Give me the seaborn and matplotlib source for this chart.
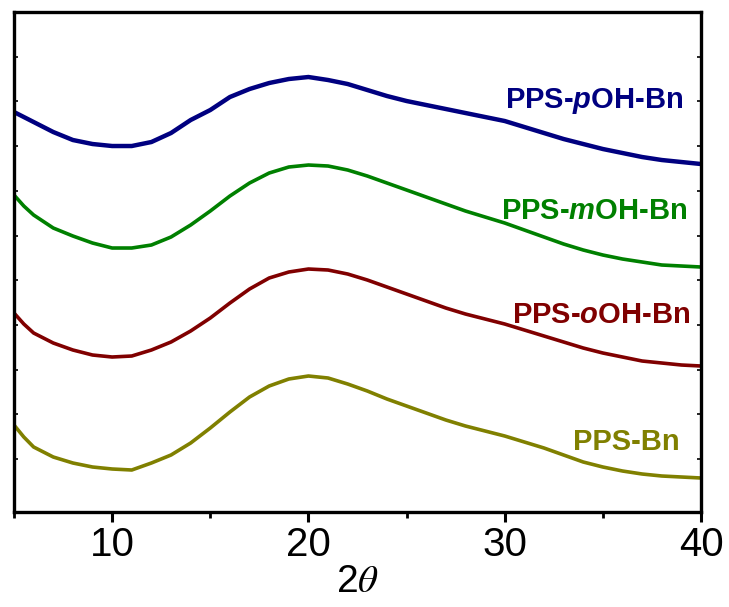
import numpy as np
import pandas as pd
import matplotlib
matplotlib.use("Agg")
import matplotlib.pyplot as plt
import seaborn as sns
from matplotlib.ticker import MultipleLocator

# ---- data (arbitrary intensity units) ----
two_theta = [5, 5.5] + list(range(6, 41))
pps_poh_bn = [400, 395, 390, 380, 372, 368, 366, 366, 370, 379, 392, 402,
              415, 423, 429, 433, 435, 432, 428, 422, 416, 411, 407, 403, 399, 395, 391,
              385, 379, 373, 368, 363, 359, 355, 352, 350, 348]
pps_moh_bn = [317, 306, 297, 284, 276, 269, 264, 264, 267, 275, 287, 301,
              316, 329, 339, 345, 347, 346, 342, 336, 329, 322, 315, 308, 301, 295, 289,
              282, 275, 268, 262, 257, 253, 250, 247, 246, 245]
pps_ooh_bn = [199, 188, 179, 169, 162, 157, 155, 156, 162, 170, 181, 194,
              209, 223, 234, 240, 243, 242, 238, 232, 225, 218, 211, 204, 198, 193, 188,
              182, 176, 170, 164, 159, 155, 151, 149, 147, 146]
pps_bn = [87, 75, 65, 55, 49, 45, 43, 42, 49, 57, 69, 84,
          100, 115, 126, 133, 136, 134, 128, 121, 113, 106, 99, 92, 86, 81, 76,
          70, 64, 57, 50, 45, 41, 38, 36, 35, 34]

series_names = ["PPS-pOH-Bn", "PPS-mOH-Bn", "PPS-oOH-Bn", "PPS-Bn"]
series_labels = ["PPS-$p$OH-Bn", "PPS-$m$OH-Bn", "PPS-$o$OH-Bn", "PPS-Bn"]
series_values = [pps_poh_bn, pps_moh_bn, pps_ooh_bn, pps_bn]
colors = ["#000080", "#008000", "#800000", "#808000"]
x_ticks = [10, 20, 30, 40]
x_ticklabels = ["10", "20", "30", "40"]

df = pd.concat([pd.DataFrame({"2theta": two_theta, "I": v, "sample": n})
                for n, v in zip(series_names, series_values)], ignore_index=True)

sns.set_style("ticks")
plt.rcParams["font.family"] = ["Liberation Sans", "DejaVu Sans"]
plt.rcParams["mathtext.fontset"] = "custom"
plt.rcParams["mathtext.it"] = "Liberation Sans:bold:italic"
plt.rcParams["mathtext.rm"] = "Liberation Sans:bold"
plt.rcParams["text.color"] = "black"
plt.rcParams["xtick.color"] = "black"
plt.rcParams["ytick.color"] = "black"
plt.rcParams["axes.labelcolor"] = "black"

fig = plt.figure(figsize=(7.29, 6.07), dpi=100)
ax = fig.add_axes([0.0192, 0.1565, 0.9424, 0.8237])

sns.lineplot(data=df, x="2theta", y="I", hue="sample", palette=dict(zip(series_names, colors)),
             hue_order=series_names, linewidth=2.6, legend=False, ax=ax, errorbar=None)
for ln in ax.lines[:1]:
    ln.set_linewidth(3.2)

ax.set_xlim(5, 40)
ax.set_ylim(0, 500)
ax.set_xticks(x_ticks)
ax.set_xticklabels(x_ticklabels)
ax.xaxis.set_minor_locator(MultipleLocator(5))
ax.set_yticks(np.arange(53, 470, 44.7))
ax.set_yticklabels([])
ax.tick_params(axis="x", which="major", direction="out", length=7, width=2.2,
               labelsize=29, pad=3, top=False, colors="black")
ax.tick_params(axis="x", which="minor", direction="out", length=4, width=2.0, top=False,
               colors="black")
ax.tick_params(axis="y", direction="in", length=3, width=1.2, left=True, right=True,
               colors="black")
for s in ax.spines.values():
    s.set_linewidth(2.4)
    s.set_color("black")

ax.set_xlabel("2$\\theta$", fontsize=28, labelpad=0, math_fontfamily="stix", color="black")
ax.set_ylabel("")

label_pos = [(39.08, 404), (39.29, 293), (39.44, 189), (38.93, 62)]
for lab, (lx, ly), c in zip(series_labels, label_pos, colors):
    ax.text(lx, ly, lab, color=c, fontsize=21, fontweight="bold", ha="right", va="baseline")

fig.savefig("out.png", dpi=100)
